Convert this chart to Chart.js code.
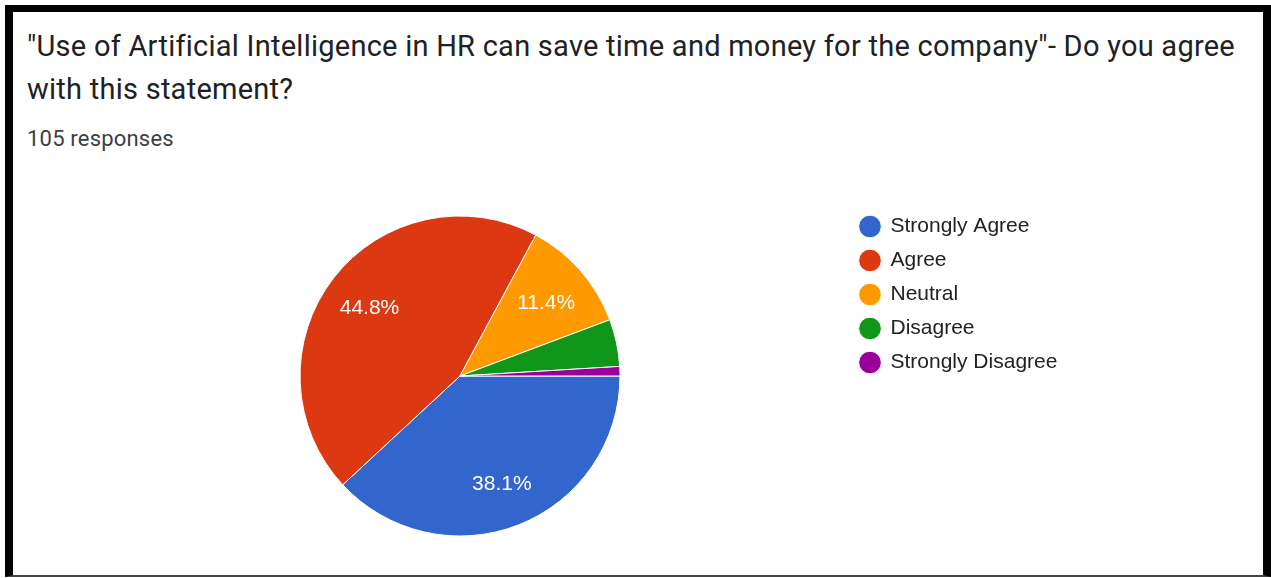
<!DOCTYPE html>
<html>
<head>
<meta charset="utf-8">
<script src="https://cdn.jsdelivr.net/npm/chart.js@4.4.1/dist/chart.umd.min.js"></script>
<style>
  html, body { margin: 0; padding: 0; background: #fff; }
  body { width: 1271px; height: 578px; position: relative; overflow: hidden; }
  .frame {
    position: absolute; left: 5px; top: 5px;
    width: 1250px; height: 563px;
    border-left: 8px solid #000; border-right: 8px solid #000;
    border-top: 7px solid #000; border-bottom: 2px solid #444;
  }
  .title {
    position: absolute; left: 27px; top: 25px;
    font-family: Roboto, sans-serif; font-size: 29px; line-height: 43px;
    letter-spacing: 0.25px; color: #202124; white-space: nowrap;
  }
  .sub {
    position: absolute; left: 27px; top: 126px;
    font-family: Roboto, sans-serif; font-size: 22px; line-height: 25px;
    letter-spacing: 0.2px; color: #3c4043; white-space: nowrap;
  }
  #chart { position: absolute; left: 0; top: 0; }
</style>
</head>
<body>
<div class="frame"></div>
<div class="title">"Use of Artificial Intelligence in HR can save time and money for the company"- Do you agree<br>with this statement?</div>
<div class="sub">105 responses</div>
<canvas id="chart" width="1271" height="578"></canvas>
<script>
// answers, in the order the form lists them
const answers = ['Strongly Agree', 'Agree', 'Neutral', 'Disagree', 'Strongly Disagree'];
const responses = [40, 47, 12, 5, 1];
const sliceColors = ['#3366CC', '#DC3912', '#FF9900', '#109618', '#990099'];

const legendFont = '"Liberation Sans", Arial, sans-serif';
const legendSize = 21;
const legendBox = 20;
const legendPad = 13;
const legendLeft = 847; // where the legend column should start

// percent text inside the bigger slices, like Google Forms does
const percentLabels = {
    id: 'percentLabels',
    afterDatasetsDraw(chart) {
        const ctx = chart.ctx;
        const data = chart.data.datasets[0].data;
        const total = data.reduce((a, b) => a + b, 0);
        chart.getDatasetMeta(0).data.forEach((arc, i) => {
            const share = data[i] / total;
            if (share < 0.05) return;
            const p = arc.getProps(['x', 'y', 'startAngle', 'endAngle', 'outerRadius'], true);
            const mid = (p.startAngle + p.endAngle) / 2;
            const r = p.outerRadius * 0.715;
            ctx.save();
            ctx.fillStyle = '#fff';
            ctx.font = '21px ' + legendFont;
            ctx.textAlign = 'center';
            ctx.textBaseline = 'middle';
            ctx.fillText((share * 100).toFixed(1) + '%', p.x + Math.cos(mid) * r, p.y + Math.sin(mid) * r + 2);
            ctx.restore();
        });
    }
};

const ctx = document.getElementById('chart').getContext('2d');

// work out the legend width the same way Chart.js does, so the pie stays centred at x=460
ctx.font = legendSize + 'px ' + legendFont;
const longest = Math.max(...answers.map(a => ctx.measureText(a).width));
const legendWidth = legendPad + legendBox + legendSize / 2 + longest + 10;
const padRight = 1271 - legendLeft - legendWidth;
const padLeft = 2 * 460 - legendLeft;

new Chart(ctx, {
    type: 'pie',
    data: {
        labels: answers,
        datasets: [{
            data: responses,
            backgroundColor: sliceColors,
            borderColor: '#fff',
            borderWidth: 1,
            radius: 160
        }]
    },
    options: {
        responsive: false,
        animation: false,
        rotation: 90,
        layout: { padding: { left: padLeft, right: padRight, top: 203, bottom: 29 } },
        plugins: {
            tooltip: { enabled: false },
            legend: {
                position: 'right',
                align: 'start',
                labels: {
                    usePointStyle: true,
                    pointStyle: 'circle',
                    boxWidth: legendBox,
                    boxHeight: 16,
                    padding: legendPad,
                    color: '#222',
                    font: { family: legendFont, size: legendSize }
                }
            }
        }
    },
    plugins: [percentLabels]
});
</script>
</body>
</html>
